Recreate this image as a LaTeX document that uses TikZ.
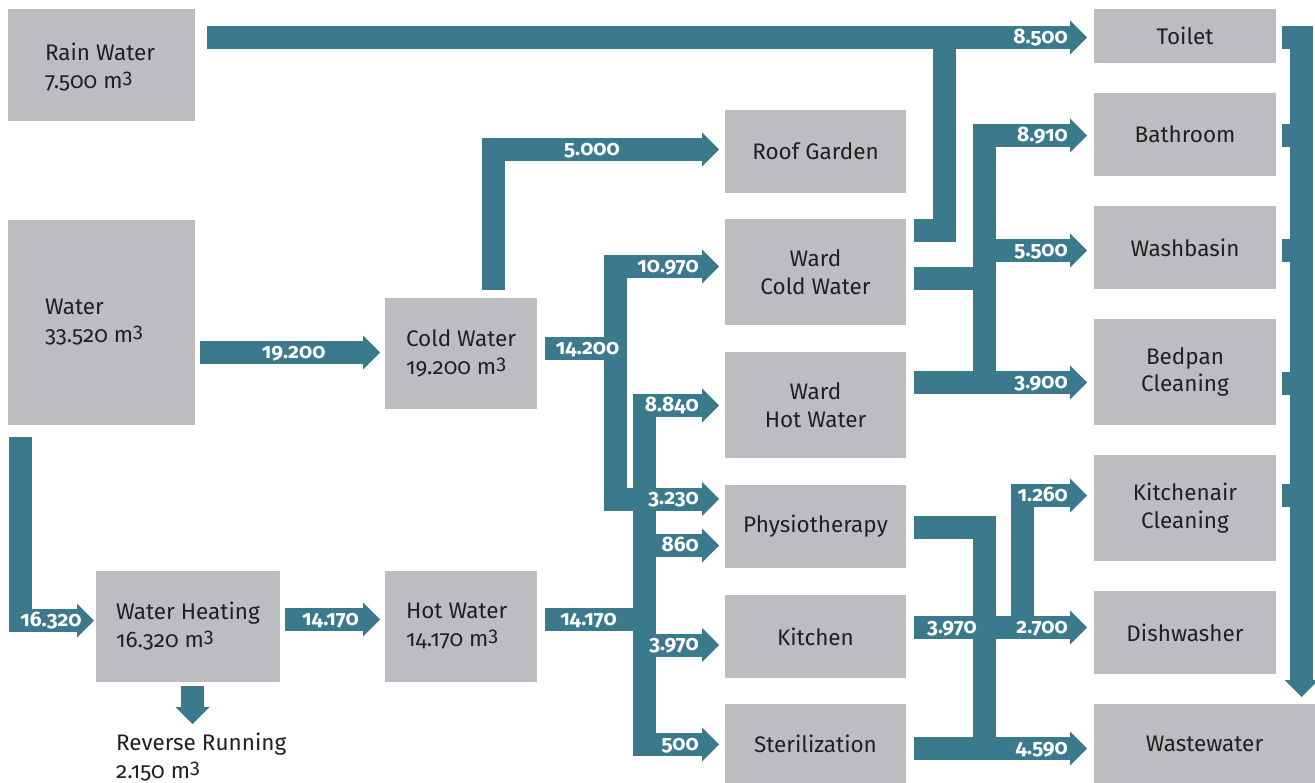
\documentclass[tikz,border=0pt]{standalone}
\usepackage{fontspec}
\setmainfont{Fira Sans}[Numbers=OldStyle]
\usetikzlibrary{arrows.meta}
\definecolor{flow}{RGB}{59,122,141}
\definecolor{boxgray}{RGB}{188,189,193}
\definecolor{ink}{RGB}{35,31,32}
\newcommand\cubm{m\raisebox{0.24em}{\fontsize{20}{20}\selectfont 3}}
\begin{document}
\begin{tikzpicture}[x=1pt,y=-1pt,
  box/.style={fill=boxgray, inner sep=0pt, text=ink, font=\fontsize{22.5}{27.5}\selectfont, align=center},
  ltxt/.style={anchor=west, inner sep=0pt, text=ink, font=\fontsize{22.5}{28}\selectfont, align=left},
  band/.style={draw=flow, line width=23pt, line join=miter, line cap=butt},
  tip/.style={-{Triangle[length=17pt,width=34pt,line width=0pt]}},
  val/.style={text=white, font=\bfseries\fontsize{21}{21}\selectfont, inner sep=0pt},
]
\useasboundingbox (0,0) rectangle (1315,783);

% ---------- boxes ----------
\node[box, minimum width=187, minimum height=112] (rain) at (101.5,65) {};
\node[ltxt] (raintxt) at ([xshift=37,yshift=-2]rain.west) {Rain Water\\7.500 \cubm};
\node[box, minimum width=187, minimum height=205] (water) at (101.5,322.5) {};
\node[ltxt] (watertxt) at ([xshift=37]water.west) {Water\\33.520 \cubm};
\node[box, minimum width=152, minimum height=111] (cold) at (461,353.5) {};
\node[ltxt] (coldtxt) at ([xshift=21]cold.west) {Cold Water\\19.200 \cubm};
\node[box, minimum width=184, minimum height=111] (heat) at (188,626.5) {};
\node[ltxt] (heattxt) at ([xshift=20]heat.west) {Water Heating\\16.320 \cubm};
\node[box, minimum width=152, minimum height=111] (hot) at (461,626.5) {};
\node[ltxt] (hottxt) at ([xshift=21]hot.west) {Hot Water\\14.170 \cubm};
\node[ltxt] (reverse) at (116,757) {Reverse Running\\2.150 \cubm};

\node[box, minimum width=181, minimum height=83] (roof) at (815.5,151.5) {Roof Garden};
\node[box, minimum width=181, minimum height=106] (wcold) at (815.5,272) {Ward\\Cold Water};
\node[box, minimum width=181, minimum height=106] (whot) at (815.5,405) {Ward\\Hot Water};
\node[box, minimum width=181, minimum height=83] (physio) at (815.5,526.5) {Physiotherapy};
\node[box, minimum width=181, minimum height=83] (kitchen) at (815.5,636.5) {Kitchen};
\node[box, minimum width=181, minimum height=79] (steril) at (815.5,743.5) {Sterilization};

\node[box, minimum width=182, minimum height=54] (toilet) at (1185,36) {Toilet};
\node[box, minimum width=182, minimum height=83] (bath) at (1185,134.5) {Bathroom};
\node[box, minimum width=182, minimum height=83] (wash) at (1185,247.5) {Washbasin};
\node[box, minimum width=182, minimum height=106] (bedpan) at (1185,372) {Bedpan\\Cleaning};
\node[box, minimum width=182, minimum height=106] (kair) at (1185,508) {Kitchenair\\Cleaning};
\node[box, minimum width=182, minimum height=83] (dish) at (1185,632.5) {Dishwasher};
\node[box, minimum width=221, minimum height=79] (waste) at (1204.5,743.5) {Wastewater};

% ---------- flows ----------
\draw[band,tip] (207,37.5) -- (1087,37.5);
\draw[band] (914,230.5) -| (944.5,37.5);
\draw[band,tip] (200,352.5) -- (380,352.5);
\draw[band,tip] (493.5,290) |- (719,149.5);
\draw[band] (545,348.5) -- (615.5,348.5);
\draw[band,tip] (615.5,499) |- (719,266.5);
\draw[band,tip] (615.5,266.5) |- (719,499);
\draw[band,tip] (644.5,744.5) |- (719,405.5);
\draw[band,tip] (644.5,405.5) |- (719,744.5);
\draw[band,tip] (644.5,545.5) -- (719,545.5);
\draw[band,tip] (644.5,645) -- (719,645);
\draw[band] (545,619.5) -- (644.5,619.5);
\draw[band,tip] (20.5,437) |- (94,620.5);
\draw[band,tip] (285,619.5) -- (380,619.5);
\draw[band,tip] (192.5,686) -- (192.5,724);
\draw[band] (914,278.5) -- (984.5,278.5);
\draw[band,tip] (984.5,382.5) |- (1087,135.5);
\draw[band,tip] (984.5,250.5) -- (1087,250.5);
\draw[band,tip] (914,382.5) -- (1087,382.5);
\draw[band] (914,527.5) -| (984.5,748.5);
\draw[band,tip] (914,748.5) -- (1087,748.5);
\draw[band,tip] (914,627.5) -- (1087,627.5);
\draw[band,tip] (1022.5,627.5) |- (1087,495.5);
\draw[band,tip] (1282,37.5) -| (1301.5,697);
\draw[band] (1282,135.5) -- (1301.5,135.5);
\draw[band] (1282,250.5) -- (1301.5,250.5);
\draw[band] (1282,383.5) -- (1301.5,383.5);
\draw[band] (1282,495.5) -- (1301.5,495.5);

% ---------- values ----------
\begin{scope}[yshift=-3pt]
\node[val, anchor=mid east] (v1) at (1068,37.5) {8.500};
\node[val, anchor=mid] (v2) at (592,149.5) {5.000};
\node[val, anchor=mid] (v3) at (293.7,352.5) {19.200};
\node[val, anchor=mid] (v4) at (587.5,348.5) {14.200};
\node[val, anchor=mid east] (v5) at (699,266.5) {10.970};
\node[val, anchor=mid east] (v6) at (699,405.5) {8.840};
\node[val, anchor=mid east] (v7) at (699,499) {3.230};
\node[val, anchor=mid east] (v8) at (699,545.5) {860};
\node[val, anchor=mid east] (v9) at (699,645) {3.970};
\node[val, anchor=mid east] (v10) at (699,744.5) {500};
\node[val, anchor=mid] (v11) at (588.5,619.5) {14.170};
\node[val, anchor=mid] (v12) at (51,620.5) {16.320};
\node[val, anchor=mid] (v13) at (330.5,619.5) {14.170};
\node[val, anchor=mid east] (v14) at (1068,135.5) {8.910};
\node[val, anchor=mid east] (v15) at (1068,250.5) {5.500};
\node[val, anchor=mid east] (v16) at (1068,382.5) {3.900};
\node[val, anchor=mid east] (v17) at (1068,495.5) {1.260};
\node[val, anchor=mid] (v18) at (952,627.5) {3.970};
\node[val, anchor=mid east] (v19) at (1068,627.5) {2.700};
\node[val, anchor=mid east] (v20) at (1068,748.5) {4.590};
\end{scope}
\end{tikzpicture}
\end{document}
